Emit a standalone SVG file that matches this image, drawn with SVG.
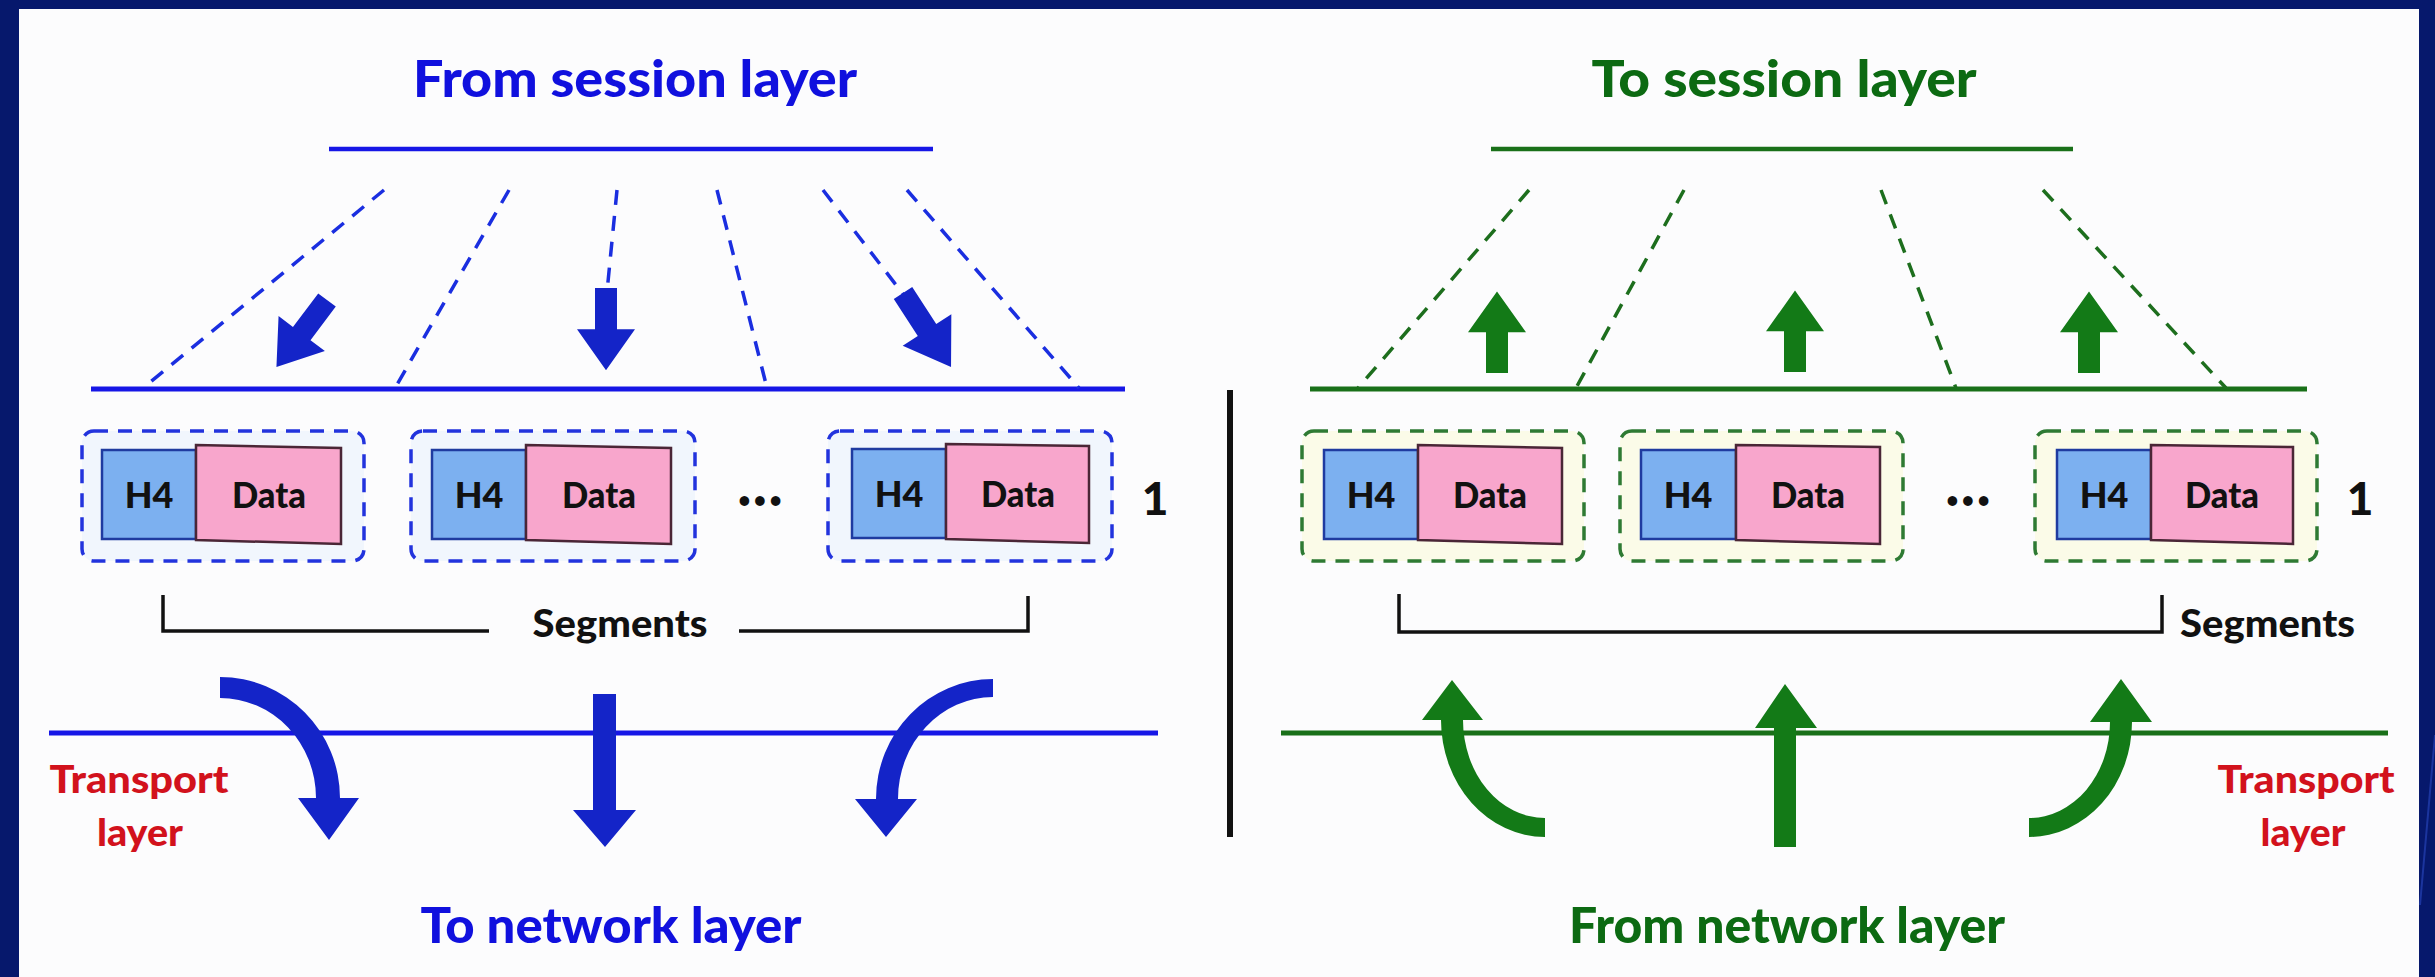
<svg xmlns="http://www.w3.org/2000/svg" width="2435" height="977" viewBox="0 0 2435 977">
<defs>
<style>
.t{font-family:Lato,"Noto Sans","Liberation Sans",sans-serif;font-weight:bold}
.hv{font-weight:900}
.blue{fill:#1010de}
.green{fill:#0c6a12}
.red{fill:#d2121c}
.blk{fill:#111}
.bl{stroke:#1616e6;fill:none}
.gl{stroke:#197019;fill:none}
.dashB{stroke:#1a2ee0;stroke-width:3.5;stroke-dasharray:15 11;fill:none}
.dashG{stroke:#1d6e1d;stroke-width:3.5;stroke-dasharray:15 11;fill:none}
.boxB{fill:#f1f6fd;stroke:#2233dd;stroke-width:3.5;stroke-dasharray:14 10}
.boxG{fill:#fbfbe8;stroke:#2e7a33;stroke-width:3.5;stroke-dasharray:14 10}
.h4{fill:#7cb0f0;stroke:#1f3ba0;stroke-width:2.5}
.dat{fill:#f8a6cc;stroke:#4a2636;stroke-width:2.5}
.arB{fill:#1424c8}
.arG{fill:#137a17}
.br{stroke:#111;stroke-width:3.5;fill:none}
</style>
<path id="blk" d="M-11,0 L11,0 L11,42 L29,42 L0,84 L-29,42 L-11,42 Z"/>
</defs>
<rect x="0" y="0" width="2435" height="977" fill="#06186c"/>
<rect x="19" y="9" width="2400" height="968" fill="#fcfcfd"/>
<line x1="2435" y1="735" x2="2420" y2="905" stroke="#2a48c0" stroke-width="2" opacity="0.6"/>

<g id="title-left"><text class="t hv blue" x="635" y="97" font-size="51" text-anchor="middle" textLength="444" lengthAdjust="spacingAndGlyphs">From session layer</text></g>
<g id="title-right"><text class="t hv green" x="1784" y="97" font-size="51" text-anchor="middle" textLength="385" lengthAdjust="spacingAndGlyphs">To session layer</text></g>

<g id="connectors">
<line class="bl" x1="329" y1="149" x2="933" y2="149" stroke-width="4.5"/>
<line class="bl" x1="91" y1="389" x2="1125" y2="389" stroke-width="5"/>
<line class="dashB" x1="384" y1="190" x2="143" y2="388"/>
<line class="dashB" x1="509" y1="190" x2="395" y2="388"/>
<line class="dashB" x1="617" y1="190" x2="607" y2="292"/>
<line class="dashB" x1="717" y1="190" x2="767" y2="388"/>
<line class="dashB" x1="823" y1="190" x2="903" y2="294"/>
<line class="dashB" x1="907" y1="190" x2="1079" y2="388"/>
<use href="#blk" class="arB" transform="translate(327,300) rotate(37)"/>
<use href="#blk" class="arB" transform="translate(606,288) scale(1,0.98)"/>
<use href="#blk" class="arB" transform="translate(903,293) rotate(-33) scale(1,1.05)"/>

<line class="gl" x1="1491" y1="149" x2="2073" y2="149" stroke-width="4.5"/>
<line class="gl" x1="1310" y1="389" x2="2307" y2="389" stroke-width="5"/>
<line class="dashG" x1="1529" y1="190" x2="1358" y2="388"/>
<line class="dashG" x1="1684" y1="190" x2="1576" y2="388"/>
<line class="dashG" x1="1881" y1="190" x2="1956" y2="388"/>
<line class="dashG" x1="2043" y1="190" x2="2226" y2="388"/>
<use href="#blk" class="arG" transform="translate(1497,373) rotate(180) scale(1,0.97)"/>
<use href="#blk" class="arG" transform="translate(1795,372) rotate(180) scale(1,0.97)"/>
<use href="#blk" class="arG" transform="translate(2089,373) rotate(180) scale(1,0.97)"/>

<line x1="1230" y1="390" x2="1230" y2="837" stroke="#111" stroke-width="6"/>

<path class="br" d="M163,595 L163,631 L489,631 M739,631 L1028,631 L1028,596"/>
<path class="br" d="M1399,594 L1399,632 L2162,632 L2162,595"/>

<line class="bl" x1="49" y1="733" x2="1158" y2="733" stroke-width="5"/>
<line class="gl" x1="1281" y1="733" x2="2388" y2="733" stroke-width="5"/>

<path class="arB" d="M220,677 A120,121 0 0 1 340,798 L359,798 L329,840 L298,798 L316,798 A96,100 0 0 0 220,698 Z"/>
<path class="arB" d="M593,694 L616,694 L616,810 L636,810 L605,847 L573,810 L593,810 Z"/>
<path class="arB" d="M993,679 A117,120 0 0 0 876,799 L855,799 L886,837 L917,799 L898,799 A95,102 0 0 1 993,697 Z"/>

<path class="arG" d="M1545,837 A104,117 0 0 1 1441,720 L1422,720 L1452,680 L1483,720 L1463,720 A82,98 0 0 0 1545,818 Z"/>
<path class="arG" d="M1774,847 L1796,847 L1796,728 L1817,728 L1785,684 L1755,728 L1774,728 Z"/>
<path class="arG" d="M2029,837 A103,115 0 0 0 2132,722 L2152,722 L2121,679 L2090,722 L2110,722 A81,96 0 0 1 2029,818 Z"/>
</g>

<g id="seg-b1">
<rect class="boxB" x="82" y="431" width="282" height="130" rx="12"/>
<rect class="h4" x="102" y="450" width="94" height="89"/>
<polygon class="dat" points="196,445 341,448 341,544 196,540"/>
<text class="t hv blk" x="149" y="508" font-size="36" text-anchor="middle">H4</text>
<text class="t hv blk" x="269" y="508" font-size="36" text-anchor="middle" textLength="74" lengthAdjust="spacingAndGlyphs">Data</text>
</g>
<g id="seg-b2">
<rect class="boxB" x="411" y="431" width="284" height="130" rx="12"/>
<rect class="h4" x="432" y="450" width="94" height="89"/>
<polygon class="dat" points="526,445 671,448 671,544 526,540"/>
<text class="t hv blk" x="479" y="508" font-size="36" text-anchor="middle">H4</text>
<text class="t hv blk" x="599" y="508" font-size="36" text-anchor="middle" textLength="74" lengthAdjust="spacingAndGlyphs">Data</text>
</g>
<g id="dots-b"><text class="t blk" x="760" y="508" font-size="22" text-anchor="middle" textLength="44" lengthAdjust="spacing">•••</text></g>
<g id="seg-b3">
<rect class="boxB" x="828" y="431" width="284" height="130" rx="12"/>
<rect class="h4" x="852" y="449" width="94" height="89"/>
<polygon class="dat" points="946,444 1089,446 1089,543 946,539"/>
<text class="t hv blk" x="899" y="507" font-size="36" text-anchor="middle">H4</text>
<text class="t hv blk" x="1018" y="507" font-size="36" text-anchor="middle" textLength="74" lengthAdjust="spacingAndGlyphs">Data</text>
</g>
<g id="one-b"><text class="t hv blk" x="1155" y="515" font-size="46" text-anchor="middle">1</text></g>
<g id="segments-b"><text class="t hv blk" x="620" y="637" font-size="37" text-anchor="middle" textLength="175" lengthAdjust="spacingAndGlyphs">Segments</text></g>
<g id="transport-b">
<text class="t hv red" x="139" y="793" font-size="38" text-anchor="middle" textLength="179" lengthAdjust="spacingAndGlyphs">Transport</text>
<text class="t hv red" x="140" y="846" font-size="38" text-anchor="middle" textLength="86" lengthAdjust="spacingAndGlyphs">layer</text>
</g>
<g id="bottom-b"><text class="t hv blue" x="611" y="943" font-size="49" text-anchor="middle" textLength="381" lengthAdjust="spacingAndGlyphs">To network layer</text></g>

<g id="seg-g1">
<rect class="boxG" x="1302" y="431" width="282" height="130" rx="12"/>
<rect class="h4" x="1324" y="450" width="94" height="89"/>
<polygon class="dat" points="1418,445 1562,448 1562,544 1418,540"/>
<text class="t hv blk" x="1371" y="508" font-size="36" text-anchor="middle">H4</text>
<text class="t hv blk" x="1490" y="508" font-size="36" text-anchor="middle" textLength="74" lengthAdjust="spacingAndGlyphs">Data</text>
</g>
<g id="seg-g2">
<rect class="boxG" x="1620" y="431" width="283" height="130" rx="12"/>
<rect class="h4" x="1641" y="450" width="95" height="89"/>
<polygon class="dat" points="1736,445 1880,447 1880,544 1736,540"/>
<text class="t hv blk" x="1688" y="508" font-size="36" text-anchor="middle">H4</text>
<text class="t hv blk" x="1808" y="508" font-size="36" text-anchor="middle" textLength="74" lengthAdjust="spacingAndGlyphs">Data</text>
</g>
<g id="dots-g"><text class="t blk" x="1968" y="508" font-size="22" text-anchor="middle" textLength="44" lengthAdjust="spacing">•••</text></g>
<g id="seg-g3">
<rect class="boxG" x="2035" y="431" width="282" height="130" rx="12"/>
<rect class="h4" x="2057" y="450" width="94" height="89"/>
<polygon class="dat" points="2151,445 2293,447 2293,544 2151,540"/>
<text class="t hv blk" x="2104" y="508" font-size="36" text-anchor="middle">H4</text>
<text class="t hv blk" x="2222" y="508" font-size="36" text-anchor="middle" textLength="74" lengthAdjust="spacingAndGlyphs">Data</text>
</g>
<g id="one-g"><text class="t hv blk" x="2360" y="515" font-size="46" text-anchor="middle">1</text></g>
<g id="segments-g"><text class="t hv blk" x="2180" y="637" font-size="37" textLength="175" lengthAdjust="spacingAndGlyphs">Segments</text></g>
<g id="transport-g">
<text class="t hv red" x="2306" y="793" font-size="38" text-anchor="middle" textLength="177" lengthAdjust="spacingAndGlyphs">Transport</text>
<text class="t hv red" x="2303" y="846" font-size="38" text-anchor="middle" textLength="85" lengthAdjust="spacingAndGlyphs">layer</text>
</g>
<g id="bottom-g"><text class="t hv green" x="1787" y="943" font-size="49" text-anchor="middle" textLength="436" lengthAdjust="spacingAndGlyphs">From network layer</text></g>
</svg>
